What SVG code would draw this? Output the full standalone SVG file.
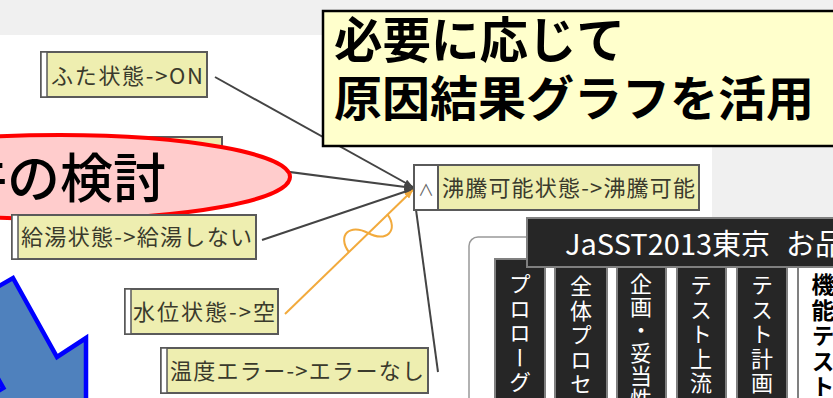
<svg xmlns="http://www.w3.org/2000/svg" width="833" height="398" viewBox="0 0 833 398">
<style>
.nbox{fill:#eeeeb0;stroke:#5a5a5a;stroke-width:2}
.strip{fill:#ffffff;stroke:#5a5a5a;stroke-width:1.5}
.ntxt{font-family:"Noto Sans CJK JP","Noto Sans",sans-serif;font-size:22px;fill:#3a3a2c}
.edge{stroke:#444444;stroke-width:2;fill:none}
.oedge{stroke:#f2aa3c;stroke-width:2;fill:none}
.col{fill:#262626;stroke:#808080;stroke-width:2}
.vtxt{font-family:"Noto Sans CJK JP",sans-serif;font-size:22px;fill:#ffffff;writing-mode:vertical-rl;letter-spacing:2.5px}
</style>
<defs>
<marker id="ah" viewBox="0 0 10 8" refX="10" refY="4" markerWidth="9" markerHeight="7" markerUnits="userSpaceOnUse" orient="auto"><path d="M0,0 L10,4 L0,8 z" fill="#444444"/></marker>
<marker id="aho" viewBox="0 0 10 8" refX="10" refY="4" markerWidth="9" markerHeight="7" markerUnits="userSpaceOnUse" orient="auto"><path d="M0,0 L10,4 L0,8 z" fill="#f2aa3c"/></marker>
</defs>
<rect x="0" y="0" width="833" height="398" fill="#f0f0f0"/>
<rect x="0" y="35" width="712" height="363" fill="#ffffff"/>

<g id="nodeB">
<rect class="nbox" x="12" y="137" width="210" height="45"/>
<rect class="strip" x="12" y="137" width="6" height="45"/>
</g>

<g id="connectors">
<line class="edge" x1="215" y1="77" x2="413" y2="187" marker-end="url(#ah)"/>
<line class="edge" x1="228" y1="164" x2="413" y2="188" marker-end="url(#ah)"/>
<line class="edge" x1="262" y1="240" x2="413" y2="189" marker-end="url(#ah)"/>
<line class="oedge" x1="285" y1="314" x2="413" y2="190" marker-end="url(#aho)"/>
<path class="oedge" transform="translate(368,233) rotate(-44.5)" d="M-27,0 C-24,-20 -6,-20 0,0 C6,20 24,20 27,0"/>
<line class="edge" x1="438" y1="372" x2="414" y2="195"/>
</g>

<g id="ellipse">
<ellipse cx="60" cy="177" rx="230" ry="42" fill="#ffcccc" stroke="#ff0000" stroke-width="4"/>
<text x="166" y="198" text-anchor="end" font-family="'Noto Sans CJK JP',sans-serif" font-size="53" font-weight="500" fill="#000000">件の検討</text>
</g>

<g id="nodeA">
<rect class="nbox" x="41" y="52" width="166" height="45"/>
<rect class="strip" x="41" y="52" width="6" height="45"/>
<text class="ntxt" x="51" y="84" textLength="152" lengthAdjust="spacing">ふた状態-&gt;ON</text>
</g>
<g id="nodeC">
<rect class="nbox" x="12" y="215" width="244" height="44"/>
<rect class="strip" x="12" y="215" width="6" height="44"/>
<text class="ntxt" x="21" y="245" textLength="231" lengthAdjust="spacing">給湯状態-&gt;給湯しない</text>
</g>
<g id="nodeD">
<rect class="nbox" x="125" y="289" width="153" height="45"/>
<rect class="strip" x="125" y="289" width="6" height="45"/>
<text class="ntxt" x="133" y="320" textLength="142" lengthAdjust="spacing">水位状態-&gt;空</text>
</g>
<g id="nodeE">
<rect class="nbox" x="161" y="348" width="267" height="45"/>
<rect class="strip" x="161" y="348" width="6" height="45"/>
<text class="ntxt" x="170" y="379" textLength="254" lengthAdjust="spacing">温度エラー-&gt;エラーなし</text>
</g>
<g id="nodeF">
<rect class="nbox" x="414" y="165" width="285" height="45"/>
<rect x="414" y="165" width="24" height="45" fill="#ffffff" stroke="#5a5a5a" stroke-width="2"/>
<text x="426" y="196" text-anchor="middle" font-family="'Noto Sans CJK JP',sans-serif" font-size="16" fill="#666666">∧</text>
<text class="ntxt" x="442" y="196" textLength="253" lengthAdjust="spacing">沸騰可能状態-&gt;沸騰可能</text>
</g>

<g id="callout">
<rect x="323" y="11" width="520" height="135" fill="#ffffcc" stroke="#000000" stroke-width="2.5"/>
<text x="334" y="58" font-family="'Noto Sans CJK JP',sans-serif" font-size="48.5" font-weight="bold" fill="#000000">必要に応じて</text>
<text x="334" y="116" font-family="'Noto Sans CJK JP',sans-serif" font-size="48" font-weight="bold" fill="#000000">原因結果グラフを活用</text>
</g>

<g id="arrow">
<polygon points="13,278 57,357 86,338 86,469.5 -27,405.5 3.3,388 -40.7,309" fill="#4f81bd" stroke="#0000ff" stroke-width="4.5" stroke-linejoin="miter"/>
</g>

<g id="panel">
<rect x="469" y="237" width="420" height="200" rx="9" fill="#ffffff" stroke="#999999" stroke-width="1.5"/>
<rect class="col" x="495" y="259" width="50" height="160"/>
<rect class="col" x="555" y="259" width="52" height="160"/>
<rect class="col" x="617" y="259" width="49" height="160"/>
<rect class="col" x="677" y="259" width="49" height="160"/>
<rect class="col" x="737" y="259" width="50" height="160"/>
<rect x="798" y="259" width="60" height="160" fill="#ffffff" stroke="#808080" stroke-width="2"/>
<text class="vtxt" x="520" y="273">プロローグ</text>
<text class="vtxt" x="581" y="275">全体プロセ</text>
<text class="vtxt" x="641" y="273" style="letter-spacing:1px">企画・妥当性</text>
<text class="vtxt" x="701" y="274">テスト上流</text>
<text class="vtxt" x="762" y="274">テスト計画</text>
<text x="823" y="273" font-family="'Noto Sans CJK JP',sans-serif" font-size="23" font-weight="bold" fill="#000000" style="writing-mode:vertical-rl;letter-spacing:2.5px">機能テスト</text>
<rect x="527" y="218" width="330" height="49" fill="#262626" stroke="#808080" stroke-width="2"/>
<text x="565" y="255" font-family="'Noto Sans CJK JP',sans-serif" font-size="29" fill="#ffffff">JaSST2013東京<tspan x="786">お品</tspan></text>
</g>
</svg>
